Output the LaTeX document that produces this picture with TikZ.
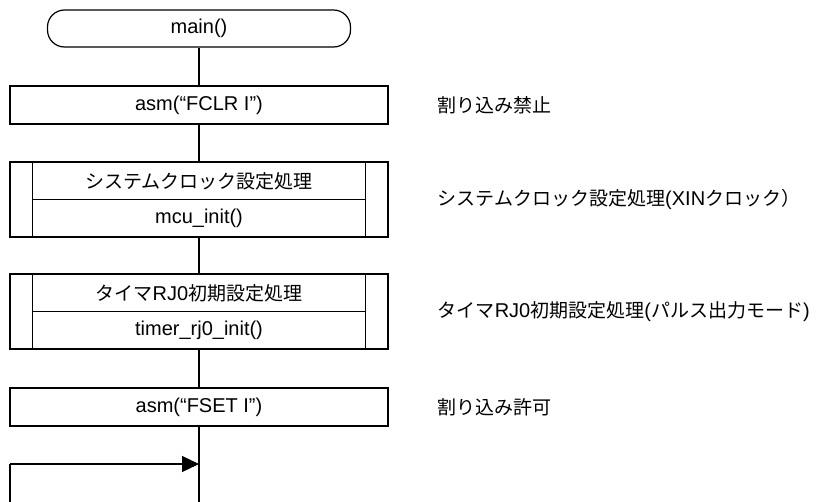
\documentclass[tikz,border=0pt]{standalone}
\usepackage{fontspec}
\setmainfont{Liberation Sans}
\newfontfamily\jpfont[Scale=0.95]{Noto Sans CJK JP}
\newcommand{\jp}[1]{{\jpfont #1}}
\usetikzlibrary{arrows.meta,calc,positioning}
\tikzstyle{line} =[line width=1.2pt]
\tikzstyle{term} =[draw, line width=1.2pt, rounded corners=17pt,
                   minimum width=303pt, minimum height=37pt,
                   inner sep=0pt]
\tikzstyle{proc} =[draw, line width=1.2pt, minimum width=378pt,
                   minimum height=38pt, inner sep=0pt]
\tikzstyle{sub}  =[proc, minimum height=75pt]
\tikzstyle{note} =[anchor=west, inner sep=0pt]

\begin{document}
\begin{tikzpicture}[x=1pt, y=-1pt, font=\fontsize{20}{24}\selectfont]
  \useasboundingbox (0,0) rectangle (833,501);

  \node[term] (main) at (199,28.5) {main()};
  \node[proc] (fclr) at (199,105) {asm(“FCLR I”)};
  \node[sub]  (clk)  at (199,199.5) {};
  \node[sub]  (tmr)  at (199,311.5) {};
  \node[proc] (fset) at (199,407) {asm(“FSET I”)};

  % subroutine boxes
  \foreach \b in {clk,tmr}{
    \draw[line] ($(\b.north west)+(23,0)$) -- ($(\b.south west)+(23,0)$);
    \draw[line] ($(\b.north east)+(-23,0)$) -- ($(\b.south east)+(-23,0)$);
    \draw[line] ($(\b.west)+(23,0)$) -- ($(\b.east)+(-23,0)$);
  }
  \node (clkname) at ($(clk.center)+(0,-18.5)$) {\jp{システムクロック設定処理}};
  \node (clkfunc) at ($(clk.center)+(0,18.5)$) {mcu\_init()};
  \node (tmrname) at ($(tmr.center)+(0,-18.5)$) {\jp{タイマ}RJ0\jp{初期設定処理}};
  \node (tmrfunc) at ($(tmr.center)+(0,18.5)$) {timer\_rj0\_init()};

  % flow
  \draw[line] (main) -- (fclr);
  \draw[line] (fclr) -- (clk);
  \draw[line] (clk) -- (tmr);
  \draw[line] (tmr) -- (fset);

  \coordinate (bot)    at (199,510);
  \coordinate (loopl)  at (10,464);
  \coordinate (loopin) at (199,464);
  \draw[line] (fset.south) -- (bot) -| (loopl);
  \draw[line, -{Triangle[length=17pt,width=16pt]}] (loopl) -- (loopin);

  % comments
  \node[note, right=49pt of fclr] (n1) {\jp{割り込み禁止}};
  \node[note, right=49pt of clk]  (n2) {\jp{システムクロック設定処理}(XIN\jp{クロック）}};
  \node[note, right=49pt of tmr]  (n3) {\jp{タイマ}RJ0\jp{初期設定処理}(\jp{パルス出力モード})};
  \node[note, right=49pt of fset] (n4) {\jp{割り込み許可}};
\end{tikzpicture}
\end{document}
